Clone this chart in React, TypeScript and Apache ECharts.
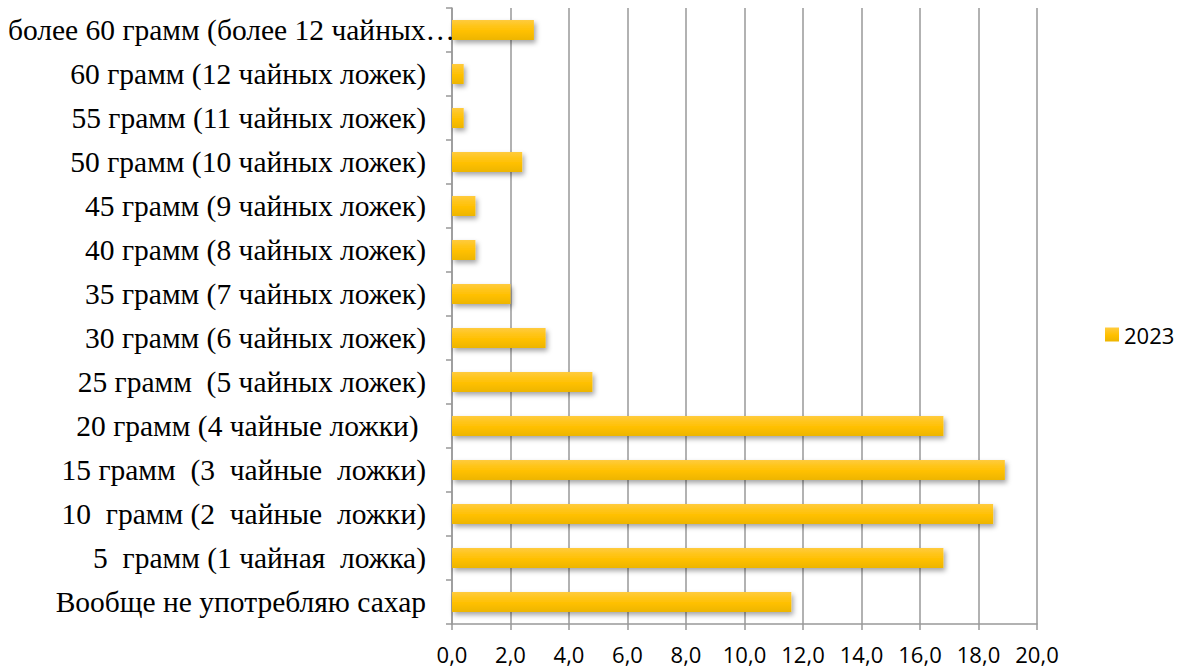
import React, { useEffect, useRef } from "react";
import * as echarts from "echarts";

const categories = [
  "Вообще не употребляю сахар",
  "5  грамм (1 чайная  ложка)",
  "10  грамм (2  чайные  ложки)",
  "15 грамм  (3  чайные  ложки)",
  "20 грамм (4 чайные ложки) ",
  "25 грамм  (5 чайных ложек)",
  "30 грамм (6 чайных ложек)",
  "35 грамм (7 чайных ложек)",
  "40 грамм (8 чайных ложек)",
  "45 грамм (9 чайных ложек)",
  "50 грамм (10 чайных ложек)",
  "55 грамм (11 чайных ложек)",
  "60 грамм (12 чайных ложек)",
  "более 60 грамм (более 12 чайных…",
];
const values2023 = [11.6, 16.8, 18.5, 18.9, 16.8, 4.8, 3.2, 2.0, 0.8, 0.8, 2.4, 0.4, 0.4, 2.8];
const seriesName = "2023";

export default function App() {
  const ref = useRef<HTMLDivElement>(null);
  useEffect(() => {
    document.body.style.margin = "0";
    const chart = echarts.init(ref.current!, null, { renderer: "svg" });
    const gold = new echarts.graphic.LinearGradient(0, 0, 0, 1, [
      { offset: 0, color: "#FFCB3D" },
      { offset: 0.55, color: "#FFC000" },
      { offset: 1, color: "#EDB500" },
    ]);
    const yData = categories.map((c, i) =>
      i === categories.length - 1
        ? { value: c, textStyle: { padding: [0, -29, 0, 0] } }
        : c
    );
    chart.setOption({
      animation: false,
      grid: { left: 452, right: 141, top: 8, bottom: 45, containLabel: false },
      legend: {
        left: 1100,
        top: "middle",
        orient: "vertical",
        data: [{ name: seriesName, icon: "rect" }],
        itemWidth: 14,
        itemHeight: 14,
        itemGap: 6,
        textStyle: { fontFamily: "Open Sans", fontSize: 22, color: "#000" },
      },
      xAxis: {
        type: "value",
        min: 0,
        max: 20,
        interval: 2,
        axisLine: { show: true, lineStyle: { color: "#999", width: 1.5 } },
        axisTick: { show: true, length: 6, lineStyle: { color: "#999", width: 1.5 } },
        splitLine: { show: true, lineStyle: { color: "#999", width: 1.5 } },
        axisLabel: {
          formatter: (v: number) => v.toFixed(1).replace(".", ","),
          fontFamily: "Open Sans",
          fontSize: 22,
          lineHeight: 22,
          color: "#000",
          margin: 19,
        },
      },
      yAxis: {
        type: "category",
        data: yData,
        axisLine: { show: true, lineStyle: { color: "#999", width: 1.5 } },
        axisTick: { show: true, length: 6, lineStyle: { color: "#999", width: 1.5 } },
        axisLabel: {
          fontFamily: "Liberation Serif",
          fontSize: 29.5,
          color: "#000",
          margin: 26,
        },
      },
      series: [
        {
          name: seriesName,
          type: "bar",
          data: values2023,
          barWidth: 20,
          itemStyle: {
            color: gold,
            shadowColor: "rgba(0,0,0,0.35)",
            shadowBlur: 5,
            shadowOffsetX: 2,
            shadowOffsetY: 3,
          },
        },
      ],
    });
    return () => chart.dispose();
  }, []);
  return <div ref={ref} style={{ width: 1178, height: 669 }} />;
}
